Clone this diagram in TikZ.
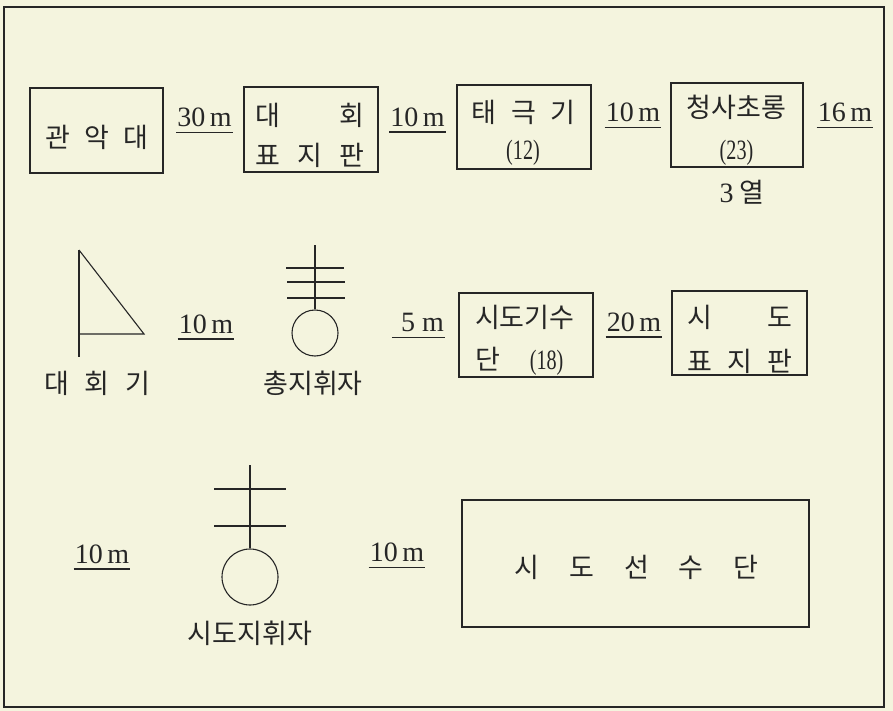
\documentclass[tikz,border=0pt]{standalone}
\usepackage{graphicx}
\usepackage{fontspec}
\newfontfamily\kr{Noto Sans CJK KR}
\newfontfamily\num{Liberation Serif}
\definecolor{paper}{HTML}{F4F4DE}
\definecolor{ink}{HTML}{262626}
\newcommand\pnum[1]{\scalebox{0.72}[1]{\num\fontsize{28}{30}\selectfont #1}}
\begin{document}
\begin{tikzpicture}[x=1pt,y=-1pt,
  kt/.style={font=\kr\fontsize{27}{40}\selectfont, text=ink, inner sep=0pt},
  kbox/.style={draw=ink, line width=1.3pt, inner sep=0pt},
  dist/.style={font=\num\fontsize{28}{30}\selectfont, text=ink, anchor=base, inner xsep=1pt, inner ysep=0pt},
  ul/.style={draw=ink, line width=1.4pt},
  sym/.style={draw=ink, line width=1.1pt}
]
\useasboundingbox (0,0) rectangle (893,711);
\fill[paper] (0,0) rectangle (893,711);
\draw[ink, line width=1.6pt] (4,7) rectangle (884,707);

% row 1 boxes
\node[kbox, minimum width=133pt, minimum height=85pt] (gak) at (96.5,130.5) {};
\node[kt, text width=103pt, align=left] (gakt) at (96.5,137) {관\hfill 악\hfill 대};

\node[kbox, minimum width=134pt, minimum height=85pt] (daehoe) at (311,129.5) {};
\node[kt, text width=109pt, align=left] (daehoet) at (310,135) {대\hfill 회\\표\hfill 지\hfill 판};

\node[kbox, minimum width=134pt, minimum height=84pt] (taeguk) at (524,127) {};
\node[kt, text width=104pt, align=left] (taegukt) at (523.5,112) {태\hfill 극\hfill 기};
\node[kt] (taeguknum) at (523,153) {\pnum{(12)}};

\node[kbox, minimum width=132pt, minimum height=84pt] (cheongsa) at (737,125) {};
\node[kt, align=center, font=\kr\fontsize{27}{42}\selectfont] (cheongsat) at (736.5,130.5) {청사초롱\\\pnum{(23)}};
\node[kt] (yeol) at (742,192) {{\num\fontsize{28}{30}\selectfont 3} 열};

% row 2 boxes
\node[kbox, minimum width=134pt, minimum height=84pt] (sdgisu) at (526,335) {};
\node[kt, text width=104pt, align=left, font=\kr\fontsize{27}{42}\selectfont] (sdgisut) at (527,340) {시도기수\\단\hspace{30pt}\pnum{(18)}};

\node[kbox, minimum width=135pt, minimum height=84pt] (sdpyo) at (739.5,333) {};
\node[kt, text width=105pt, align=left, font=\kr\fontsize{27}{44}\selectfont] (sdpyot) at (739.5,339) {시\hfill 도\\표\hfill 지\hfill 판};

% row 3 box
\node[kbox, minimum width=347pt, minimum height=127pt] (sdsun) at (635.5,563.5) {};
\node[kt, text width=244pt, align=left] (sdsunt) at (636.5,567) {시\hfill 도\hfill 선\hfill 수\hfill 단};

% distances
\node[dist] (d1) at (204.5,126.7) {30\,m};
\node[dist] (d2) at (417.5,126.5) {10\,m};
\node[dist] (d3) at (633,122) {10\,m};
\node[dist] (d4) at (845,122) {16\,m};
\node[dist] (d5) at (206,333.3) {10\,m};
\node[dist] (d6) at (422.5,331.7) {5 m};
\node[dist] (d7) at (634,331.5) {20\,m};
\node[dist] (d8) at (102,563.3) {10\,m};
\node[dist] (d9) at (397,561.7) {10\,m};
\foreach \n in {d1,d2,d3,d4,d5,d7,d8,d9}
  \draw[ul] ([yshift=-5.6pt]\n.base west) -- ([yshift=-5.6pt]\n.base east);
\draw[ul] ([yshift=-5.6pt,xshift=-8pt]d6.base west) -- ([yshift=-5.6pt]d6.base east);

% flag
\coordinate (fpt) at (79,250);
\coordinate (fpb) at (79,357);
\coordinate (ftip) at (144,334);
\coordinate (fbase) at (79,334);
\draw[sym] (fpt) -- (fpb);
\draw[sym] (fpt) -- (ftip) -- (fbase);
\node[kt, text width=106pt, align=left] (flaglbl) at (97,383) {대\hfill 회\hfill 기};

% chief conductor
\node[sym, circle, minimum size=46pt, inner sep=0pt] (cc) at (315,333) {};
\coordinate (cctop) at (315,245);
\draw[sym] (cctop) -- (cc.north);
\draw[sym] (286,268) -- (344,268);
\draw[sym] (287,282) -- (345,282);
\draw[sym] (287,298) -- (345,298);
\node[kt] (cclbl) at (313,383) {총지휘자};

% province conductor
\node[sym, circle, minimum size=56pt, inner sep=0pt] (pc) at (250,577) {};
\coordinate (pctop) at (250,465);
\draw[sym] (pctop) -- (pc.north);
\draw[sym] (214,489) -- (286,489);
\draw[sym] (214,526) -- (286,526);
\node[kt] (pclbl) at (250,633) {시도지휘자};
\end{tikzpicture}
\end{document}
